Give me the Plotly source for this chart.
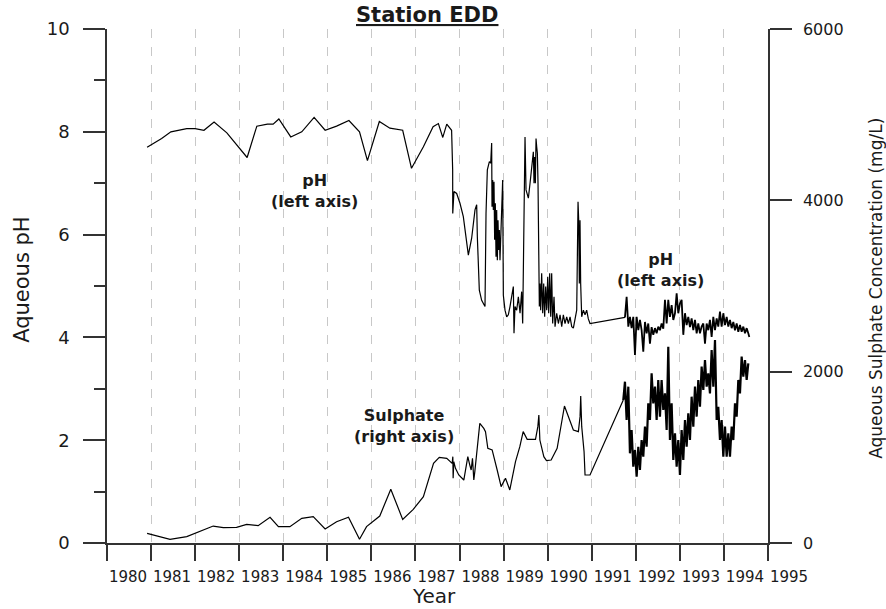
import plotly.graph_objects as go

# ---------------- data ----------------
year_ticks = list(range(1980, 1996))

# pH, 1980-1987 (sparse sampling)
ph_years_early = [1980.91, 1981.24, 1981.45, 1981.81, 1982.00, 1982.20, 1982.43, 1982.72, 1983.18,
                  1983.40, 1983.64, 1983.77, 1983.90, 1984.17, 1984.42, 1984.70, 1984.95, 1985.21,
                  1985.49, 1985.73, 1985.91, 1986.18, 1986.42, 1986.71, 1986.91, 1987.18, 1987.40,
                  1987.52, 1987.62, 1987.71, 1987.82]
ph_early = [7.70, 7.87, 8.00, 8.06, 8.06, 8.03, 8.19, 7.98, 7.50, 8.11, 8.15, 8.15, 8.25, 7.90, 8.00,
            8.28, 8.03, 8.11, 8.22, 8.00, 7.44, 8.20, 8.07, 8.03, 7.29, 7.71, 8.10, 8.16, 7.89, 8.15, 8.03]

# pH, 1987.8-1991
ph_years_mid = [1987.844, 1987.846, 1987.874, 1987.935, 1988.010, 1988.086, 1988.147, 1988.200, 1988.275, 1988.351,
                1988.389, 1988.404, 1988.449, 1988.502, 1988.578, 1988.601, 1988.631, 1988.677, 1988.707, 1988.729,
                1988.737, 1988.752, 1988.767, 1988.782, 1988.797, 1988.812, 1988.828, 1988.843, 1988.858, 1988.873,
                1988.888, 1988.903, 1988.918, 1988.934, 1988.956, 1988.979, 1988.994, 1989.032, 1989.070, 1989.107,
                1989.145, 1989.183, 1989.221, 1989.236, 1989.259, 1989.297, 1989.335, 1989.373, 1989.410, 1989.433,
                1989.486, 1989.509, 1989.562, 1989.600, 1989.638, 1989.675, 1989.690, 1989.705, 1989.721, 1989.736,
                1989.751, 1989.766, 1989.781, 1989.789, 1989.811, 1989.826, 1989.841, 1989.864, 1989.887, 1989.910,
                1989.932, 1989.955, 1989.978, 1990.001, 1990.023, 1990.046, 1990.069, 1990.091, 1990.114, 1990.144,
                1990.167, 1990.205, 1990.243, 1990.281, 1990.319, 1990.356, 1990.394, 1990.432, 1990.470, 1990.508,
                1990.546, 1990.583, 1990.621, 1990.659, 1990.689, 1990.704, 1990.719, 1990.734, 1990.749, 1990.772,
                1990.810, 1990.848, 1990.885, 1990.923, 1990.961]
ph_mid = [7.26, 6.41, 6.84, 6.80, 6.61, 6.35, 5.96, 5.60, 5.93, 6.48,
          6.58, 5.96, 4.92, 4.72, 4.60, 6.41, 7.26, 7.42, 7.39, 7.78,
          6.54, 7.06, 6.48, 7.03, 5.90, 6.61, 5.57, 6.48, 5.50, 6.28,
          5.70, 6.09, 5.50, 5.83, 6.48, 7.06, 4.82, 4.53, 4.40, 4.44,
          4.60, 4.79, 4.99, 4.08, 4.60, 4.53, 4.79, 4.47, 4.89, 4.27,
          7.90, 6.87, 6.71, 7.00, 7.26, 7.61, 7.00, 7.51, 7.00, 7.87,
          7.71, 7.58, 7.00, 5.96, 4.60, 5.05, 4.53, 5.25, 4.47, 5.05,
          4.40, 4.99, 4.53, 5.18, 4.47, 5.25, 4.40, 5.25, 4.27, 4.79,
          4.21, 4.47, 4.27, 4.44, 4.21, 4.44, 4.27, 4.40, 4.27, 4.40,
          4.21, 4.18, 4.34, 4.53, 6.64, 6.28, 5.05, 6.28, 5.05, 4.40,
          4.53, 4.44, 4.53, 4.36, 4.27]

# sampling dates of the dense (frequent) monitoring period 1991.75-1994.55
dense_years = [1991.754, 1991.792, 1991.830, 1991.867, 1991.905, 1991.943, 1991.981, 1992.019, 1992.057,
               1992.094, 1992.132, 1992.170, 1992.208, 1992.246, 1992.283, 1992.321, 1992.359, 1992.397, 1992.435,
               1992.473, 1992.510, 1992.548, 1992.586, 1992.624, 1992.662, 1992.700, 1992.737, 1992.775, 1992.813,
               1992.851, 1992.889, 1992.927, 1992.964, 1993.002, 1993.040, 1993.078, 1993.116, 1993.154, 1993.191,
               1993.229, 1993.267, 1993.305, 1993.343, 1993.381, 1993.418, 1993.456, 1993.494, 1993.532, 1993.570,
               1993.608, 1993.645, 1993.683, 1993.721, 1993.759, 1993.797, 1993.835, 1993.872, 1993.910, 1993.948,
               1993.986, 1994.024, 1994.062, 1994.099, 1994.137, 1994.175, 1994.213, 1994.251, 1994.289, 1994.326,
               1994.364, 1994.402, 1994.440, 1994.478, 1994.516, 1994.553]

ph_years_end = [1994.576]
ph_dense = [4.39, 4.79, 4.21, 4.40, 4.18, 4.40, 3.66, 4.40, 4.14, 4.34,
            4.14, 3.72, 4.30, 4.08, 4.27, 3.88, 4.20, 4.05, 4.18, 4.08,
            4.21, 4.14, 4.27, 4.17, 4.73, 4.27, 4.73, 4.40, 4.63, 4.34,
            4.47, 4.86, 4.47, 4.66, 4.73, 4.05, 4.47, 4.24, 4.40, 4.20,
            4.37, 4.14, 4.34, 4.08, 4.27, 4.08, 4.21, 4.27, 3.88, 4.27,
            4.14, 4.34, 4.01, 4.40, 4.14, 4.37, 4.21, 4.50, 4.21, 4.47,
            4.24, 4.40, 4.21, 4.34, 4.18, 4.30, 4.14, 4.27, 4.11, 4.24,
            4.11, 4.21, 4.08, 4.18, 4.08, 4.01]

# sulphate (mg/L), 1980-1987
so4_years_early = [1980.91, 1981.43, 1981.81, 1982.00, 1982.41, 1982.64, 1982.94, 1983.17, 1983.43, 1983.70,
                   1983.89, 1984.15, 1984.42, 1984.68, 1984.95, 1985.21, 1985.48, 1985.73, 1985.89, 1986.19,
                   1986.44, 1986.71, 1986.95, 1987.18, 1987.41, 1987.54, 1987.71]
so4_early = [113, 43, 74, 113, 198, 179, 183, 218, 202, 300, 191, 191, 288, 307, 163, 249, 300, 43, 191, 315,
             627, 276, 393, 541, 930, 1000, 989]

# sulphate, 1987.8-1991
so4_years_mid = [1987.833, 1987.848, 1987.855, 1987.870, 1987.908, 1987.983, 1988.097, 1988.188, 1988.233,
                 1988.264, 1988.294, 1988.324, 1988.347, 1988.460, 1988.551, 1988.589, 1988.642, 1988.740,
                 1988.854, 1988.944, 1989.043, 1989.096, 1989.141, 1989.270, 1989.368, 1989.444, 1989.535,
                 1989.724, 1989.777, 1989.800, 1989.823, 1989.913, 1989.973, 1990.079, 1990.215, 1990.381,
                 1990.583, 1990.697, 1990.735, 1990.750, 1990.773, 1990.826, 1990.848, 1990.961]
so4_mid = [930, 1008, 755, 949, 872, 794, 735, 1008, 910, 852, 988, 735, 833, 1397, 1338, 1300, 1105, 1086,
           852, 658, 755, 677, 619, 949, 1124, 1300, 1210, 1210, 1358, 1494, 1202, 1008, 961, 969, 1105, 1599,
           1319, 1300, 1475, 1716, 1358, 1066, 794, 794]

so4_years_start_dense = [1991.716]
so4_dense = [1669, 1883, 1436, 1825, 1047, 1319, 891, 1086, 774, 1124,
             852, 1202, 1008, 1358, 1124, 1630, 1436, 1981, 1630, 1825,
             1436, 1903, 1475, 1903, 1553, 1747, 1319, 2292, 1202, 1630,
             969, 1280, 891, 1202, 794, 1319, 969, 1436, 1124, 1514,
             1202, 1708, 1358, 1825, 1475, 1903, 1591, 2059, 1786, 2136,
             1825, 1981, 1747, 2253, 1825, 2370, 1436, 1591, 1202, 1436,
             1008, 1358, 1008, 1280, 1008, 1358, 1202, 1630, 1475, 1903,
             1747, 2175, 1942, 2136, 1903, 2098]

# ---------------- figure ----------------
FONT = "DejaVu Sans"
AX = "#333333"
TXT = "#1a1a1a"

fig = go.Figure()
# sparse records (thin line)
fig.add_trace(go.Scatter(x=ph_years_early + ph_years_mid + dense_years[:1],
                         y=ph_early + ph_mid + ph_dense[:1], mode="lines", name="pH",
                         line=dict(color="black", width=1.2), yaxis="y", showlegend=False))
fig.add_trace(go.Scatter(x=so4_years_early + so4_years_mid + so4_years_start_dense,
                         y=so4_early + so4_mid + so4_dense[:1], mode="lines", name="Sulphate",
                         line=dict(color="black", width=1.2), yaxis="y2", showlegend=False))
# frequent records 1991.7-1994.6 (heavier strokes, as in the original)
fig.add_trace(go.Scatter(x=dense_years + ph_years_end, y=ph_dense, mode="lines", name="pH",
                         line=dict(color="black", width=1.8), yaxis="y", showlegend=False))
fig.add_trace(go.Scatter(x=so4_years_start_dense + dense_years, y=so4_dense, mode="lines",
                         name="Sulphate", line=dict(color="black", width=2.2), yaxis="y2",
                         showlegend=False))

fig.update_layout(
    width=886, height=609,
    margin=dict(l=107, r=118, t=29, b=66),
    paper_bgcolor="white", plot_bgcolor="white",
    font=dict(family=FONT, color=TXT),
    xaxis=dict(
        range=[1980, 1995], tickmode="array", tickvals=year_ticks,
        ticktext=[str(y) for y in year_ticks],
        ticks="outside", ticklen=16, tickwidth=1.5, tickcolor=AX,
        showline=True, linecolor=AX, linewidth=1.5,
        showgrid=True, gridcolor="#c8c8c8", griddash="dash", gridwidth=1,
        zeroline=False, ticklabelshift=21, ticklabelstandoff=3,
        tickfont=dict(size=15, family=FONT, color=TXT),
    ),
    yaxis=dict(
        range=[0, 10], tick0=0, dtick=2,
        ticks="outside", ticklen=22, tickwidth=1.5, tickcolor=AX,
        showline=True, linecolor=AX, linewidth=1.5,
        showgrid=False, zeroline=False,
        minor=dict(ticks="outside", ticklen=11, dtick=1, tickcolor=AX, tickwidth=1.5, showgrid=False),
        ticklabelstandoff=10,
        tickfont=dict(size=18, family=FONT, color=TXT),
    ),
    yaxis2=dict(
        range=[0, 6000], tick0=0, dtick=2000, overlaying="y", side="right",
        ticks="outside", ticklen=22, tickwidth=1.5, tickcolor=AX,
        showline=True, linecolor=AX, linewidth=1.5,
        showgrid=False, zeroline=False, ticklabelstandoff=8,
        tickfont=dict(size=16, family=FONT, color=TXT),
    ),
)

ann_font = dict(family=FONT, size=16, color=TXT)
fig.add_annotation(text="<b><u>Station EDD</u></b>", xref="paper", yref="paper",
                   x=0.484, y=1.027, showarrow=False, xanchor="center", yanchor="middle",
                   font=dict(family=FONT, size=21, color=TXT))
fig.add_annotation(text="<b>pH<br>(left axis)</b>", xref="x", yref="y", x=1984.72, y=6.85,
                   showarrow=False, font=ann_font, align="center")
fig.add_annotation(text="<b>pH<br>(left axis)</b>", xref="x", yref="y", x=1992.57, y=5.31,
                   showarrow=False, font=ann_font, align="center")
fig.add_annotation(text="<b>Sulphate<br>(right axis)</b>", xref="x", yref="y", x=1986.74, y=2.28,
                   showarrow=False, font=ann_font, align="center")
fig.add_annotation(text="Aqueous pH", xref="paper", yref="paper", x=-0.1286, y=0.512,
                   textangle=-90, showarrow=False, xanchor="center", yanchor="middle",
                   font=dict(family=FONT, size=21, color=TXT))
fig.add_annotation(text="Aqueous Sulphate Concentration (mg/L)", xref="paper", yref="paper",
                   x=1.163, y=0.496, textangle=-90, showarrow=False,
                   xanchor="center", yanchor="middle",
                   font=dict(family=FONT, size=17, color=TXT))
fig.add_annotation(text="Year", xref="paper", yref="paper", x=0.495, y=-0.1035,
                   showarrow=False, xanchor="center", yanchor="middle",
                   font=dict(family=FONT, size=20, color=TXT))

# remove the browser's default 8px page margin so the 886x609 figure fills the window exactly
fig.write_html("out.html",
               config={"displayModeBar": False},
               post_script="document.body.style.margin='0';document.body.style.overflow='hidden';")
